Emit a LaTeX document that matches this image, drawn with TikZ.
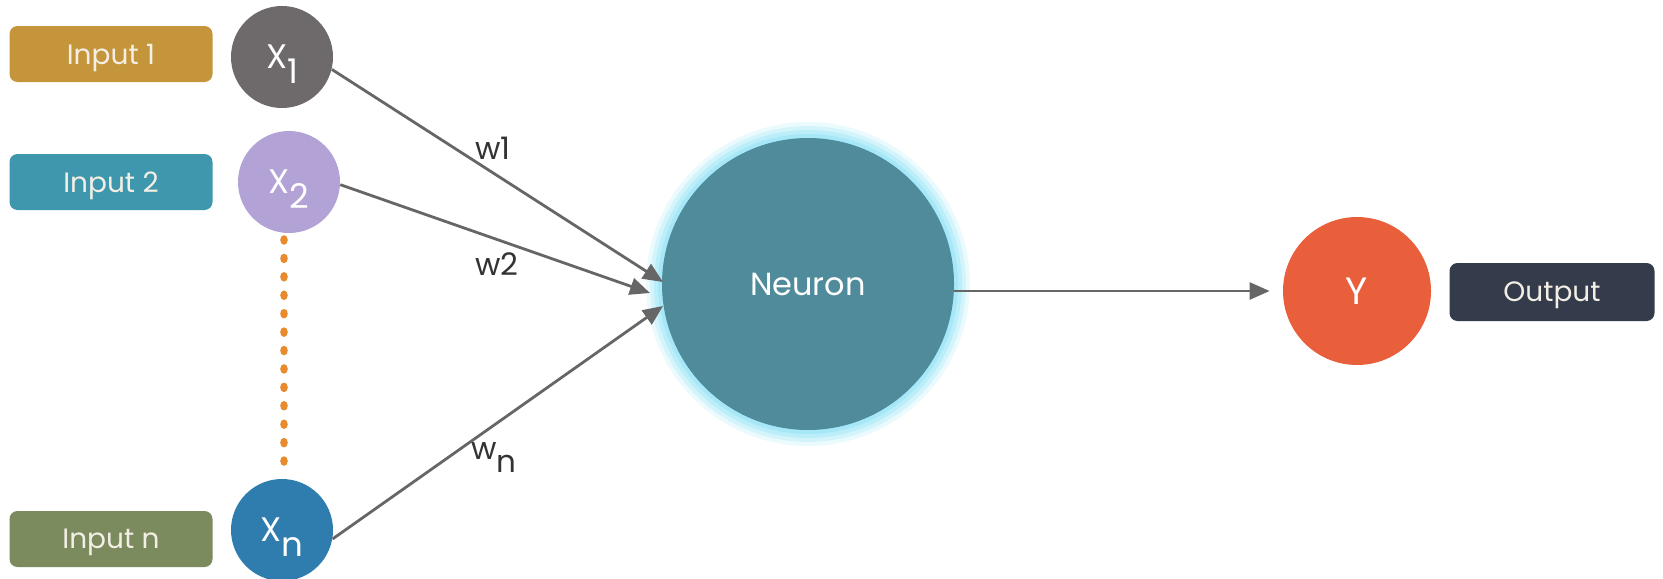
\documentclass[tikz,border=0pt]{standalone}
\usepackage{fontspec}
\setmainfont{Poppins}
\usetikzlibrary{arrows.meta}
\definecolor{inonecol}{HTML}{C4953A}
\definecolor{intwocol}{HTML}{3E97AC}
\definecolor{inncol}{HTML}{7B8B5E}
\definecolor{xonecol}{HTML}{6E6A6B}
\definecolor{xtwocol}{HTML}{B2A2D6}
\definecolor{xncol}{HTML}{2F7CAF}
\definecolor{neuroncol}{HTML}{4F8B9B}
\definecolor{glowcol}{HTML}{9DE6F7}
\definecolor{ycol}{HTML}{E95F3C}
\definecolor{outcol}{HTML}{343B4B}
\definecolor{dotcol}{HTML}{E88A2E}
\definecolor{edgecol}{HTML}{666666}
\definecolor{labelcol}{HTML}{333333}
\definecolor{boxtext}{HTML}{F4EFE6}
\newcommand{\lowsub}[1]{\raisebox{-0.42em}[0pt][0pt]{#1}}

\begin{document}
\begin{tikzpicture}[x=0.5pt,y=-0.5pt]
\tikzset{inbox/.style = {shape=rectangle,rounded corners=4pt,minimum width=101.5pt,minimum height=28pt,text depth=0pt,text=boxtext,font=\fontsize{14}{16}\selectfont}}
\tikzset{vertex/.style = {shape=circle,minimum size=51pt,inner sep=0pt,text=white,font=\fontsize{17}{19}\selectfont}}
\tikzset{edge/.style = {->,> = {Triangle[length=10pt,width=8.5pt]},draw=edgecol,line width=1.4pt}}
\tikzset{weight/.style = {text=labelcol,inner sep=0pt,font=\fontsize{15.5}{18}\selectfont}}
\useasboundingbox (0,0) rectangle (1663,578);
\foreach \r/\o in {81/0.2,79/0.3,77/0.45,75/0.7}
  \fill[glowcol,opacity=\o] (808,284) circle (\r pt);
\node[inbox,fill=inonecol](in1) at (111,54) {Input 1};
\node[inbox,fill=intwocol](in2) at (111,182) {Input 2};
\node[inbox,fill=inncol](inn) at (111,539) {Input n};
\node[vertex,fill=xonecol](x1) at (282,57) {X\lowsub{1}};
\node[vertex,fill=xtwocol](x2) at (289,182) {X\lowsub{2}};
\node[vertex,fill=xncol](xn) at (282,530) {X\lowsub{n}};
\node[vertex,fill=neuroncol,minimum size=146pt,font=\fontsize{16}{18}\selectfont](neuron) at (808,284) {Neuron};
\node[vertex,fill=ycol,minimum size=74pt,font=\fontsize{19}{21}\selectfont](y) at (1357,291) {Y};
\node[inbox,fill=outcol,minimum width=102.5pt,minimum height=29pt,font=\fontsize{14}{16}\selectfont](out) at (1552,292) {Output};
\foreach \i in {0,...,12}
  \fill[dotcol] (284,240+18.42*\i) ellipse (1.9pt and 2.4pt);
\coordinate (t1) at (663,282);
\coordinate (t2) at (650,293);
\coordinate (tn) at (663,306);
\draw[edge] (x1.-14) -- (t1);
\draw[edge] (x2.-3) -- (t2);
\draw[edge] (xn.-10) -- (tn);
\draw[edge] (neuron.east |- y) -- ([xshift=-6.5pt]y.west);
\node[weight](w1) at (493,148) {w1};
\node[weight](w2) at (497,264) {w2};
\node[weight](wn) at (494,451) {w\lowsub{n}};
\end{tikzpicture}
\end{document}
